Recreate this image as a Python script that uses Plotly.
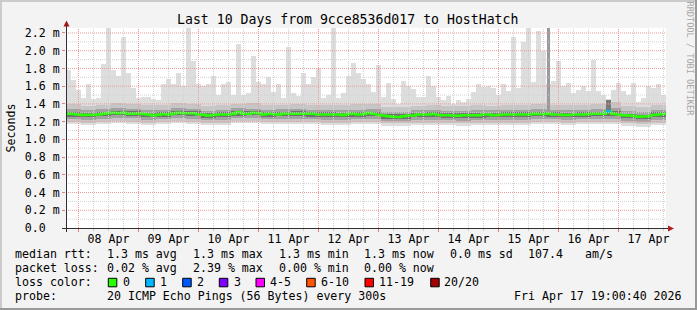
import pandas as pd
import plotly.graph_objects as go

# ---------------------------------------------------------------- data
TITLE = "Last 10 Days from 9cce8536d017 to HostHatch"
Y_TITLE = "Seconds"
WATERMARK = "RRDTOOL / TOBI OETIKER"
START = "2026-04-07 19:00:40"
END = "2026-04-17 19:00:40"
FIRST_STEP = "2026-04-07 19:00"      # first 2-hour consolidated step
BAND_STEP0 = "2026-04-07 19:00"      # first 6-hour smoke-band step

# highest ping per 2-hour step (ms)
ping_max = [
    1.78, 1.67, 1.56, 1.47, 1.63, 1.46, 1.47, 1.85, 2.26, 1.78,
    1.72, 2.15, 1.75, 1.58, 1.47, 1.48, 1.48, 1.45, 1.44, 1.62,
    1.68, 1.62, 1.75, 1.60, 2.27, 1.88, 1.62, 1.60, 1.62, 1.72,
    1.50, 1.62, 1.65, 1.50, 2.08, 1.50, 1.52, 1.94, 1.65, 1.62,
    1.70, 1.53, 1.63, 1.47, 2.04, 1.52, 1.49, 1.75, 1.63, 1.70,
    1.81, 1.47, 1.50, 2.26, 1.47, 1.52, 1.71, 1.86, 1.75, 1.68,
    1.62, 1.53, 1.84, 1.48, 1.64, 1.45, 1.40, 1.66, 1.60, 1.57,
    1.48, 1.48, 1.71, 1.60, 1.48, 1.44, 1.49, 1.40, 1.44, 1.42,
    1.46, 1.53, 1.62, 1.59, 1.60, 1.58, 1.50, 1.62, 1.55, 2.15,
    1.58, 2.10, 2.26, 1.65, 2.22, 2.00, 1.62, 1.66, 1.88, 1.60,
    1.64, 1.52, 1.56, 1.60, 1.55, 1.90, 1.54, 1.50, 1.45, 1.56,
    1.64, 1.55, 1.50, 1.64, 1.42, 1.47, 1.60, 1.58, 1.62, 1.50,
]

# median rtt per 2-hour step (ms)
median_rtt = [
    1.288, 1.285, 1.280, 1.275, 1.278, 1.275, 1.280, 1.288, 1.295, 1.300,
    1.295, 1.300, 1.288, 1.290, 1.292, 1.285, 1.280, 1.270, 1.278, 1.285,
    1.280, 1.293, 1.300, 1.295, 1.295, 1.295, 1.280, 1.278, 1.270, 1.275,
    1.280, 1.280, 1.280, 1.290, 1.305, 1.290, 1.290, 1.300, 1.295, 1.280,
    1.288, 1.285, 1.280, 1.288, 1.288, 1.288, 1.288, 1.288, 1.288, 1.288,
    1.280, 1.280, 1.280, 1.280, 1.280, 1.275, 1.285, 1.288, 1.280, 1.285,
    1.298, 1.290, 1.275, 1.268, 1.262, 1.255, 1.252, 1.262, 1.270, 1.270,
    1.280, 1.280, 1.280, 1.286, 1.275, 1.272, 1.272, 1.268, 1.265, 1.272,
    1.272, 1.272, 1.272, 1.280, 1.280, 1.272, 1.275, 1.280, 1.280, 1.280,
    1.280, 1.280, 1.280, 1.290, 1.285, 1.285, 1.290, 1.280, 1.280, 1.275,
    1.275, 1.280, 1.280, 1.280, 1.285, 1.288, 1.288, 1.288, 1.315, 1.288,
    1.280, 1.273, 1.270, 1.265, 1.255, 1.258, 1.262, 1.275, 1.280, 1.285,
]

# lost pings (of 20) per 2-hour step
lost_pings = [
    0, 0, 0, 0, 0, 0, 0, 0, 0, 0, 0, 0, 0, 0, 0, 0, 0, 0, 0, 0,
    0, 0, 0, 0, 0, 0, 0, 0, 0, 0, 0, 0, 0, 0, 0, 0, 0, 0, 0, 0,
    0, 0, 0, 0, 0, 0, 0, 0, 0, 0, 0, 0, 0, 0, 0, 0, 0, 0, 0, 0,
    0, 0, 0, 0, 0, 0, 0, 0, 0, 0, 0, 0, 0, 0, 0, 0, 0, 0, 0, 0,
    0, 0, 0, 0, 0, 0, 0, 0, 0, 0, 0, 0, 0, 0, 0, 0, 0, 0, 0, 0,
    0, 0, 0, 0, 0, 0, 0, 0, 1, 0, 0, 0, 0, 0, 0, 0, 0, 0, 0, 0,
]

# smoke bands per 6-hour step (ms)
ping_min = [
    1.18, 1.17, 1.18, 1.18, 1.18, 1.17, 1.17, 1.18, 1.18, 1.17,
    1.17, 1.18, 1.18, 1.17, 1.18, 1.18, 1.17, 1.17, 1.17, 1.18,
    1.18, 1.16, 1.16, 1.17, 1.17, 1.17, 1.16, 1.17, 1.17, 1.17,
    1.17, 1.18, 1.17, 1.17, 1.17, 1.18, 1.18, 1.16, 1.15, 1.17,
]
outer_lo = [
    1.20, 1.19, 1.20, 1.21, 1.20, 1.19, 1.20, 1.21, 1.20, 1.19,
    1.19, 1.21, 1.21, 1.20, 1.20, 1.20, 1.20, 1.19, 1.19, 1.20,
    1.20, 1.18, 1.18, 1.19, 1.19, 1.19, 1.18, 1.19, 1.19, 1.19,
    1.19, 1.20, 1.20, 1.19, 1.20, 1.20, 1.20, 1.18, 1.17, 1.19,
]
outer_hi = [
    1.40, 1.38, 1.39, 1.41, 1.40, 1.39, 1.39, 1.41, 1.40, 1.38,
    1.39, 1.40, 1.41, 1.39, 1.39, 1.40, 1.39, 1.39, 1.39, 1.40,
    1.40, 1.37, 1.37, 1.38, 1.39, 1.38, 1.38, 1.39, 1.38, 1.39,
    1.39, 1.40, 1.39, 1.39, 1.39, 1.40, 1.42, 1.38, 1.36, 1.39,
]
mid_lo = [
    1.23, 1.22, 1.23, 1.24, 1.24, 1.22, 1.23, 1.24, 1.23, 1.22,
    1.22, 1.24, 1.24, 1.23, 1.23, 1.23, 1.23, 1.22, 1.22, 1.23,
    1.23, 1.21, 1.21, 1.22, 1.22, 1.22, 1.21, 1.22, 1.22, 1.22,
    1.22, 1.23, 1.23, 1.22, 1.23, 1.23, 1.23, 1.21, 1.20, 1.22,
]
mid_hi = [
    1.34, 1.33, 1.34, 1.35, 1.34, 1.33, 1.33, 1.35, 1.34, 1.32,
    1.33, 1.35, 1.34, 1.33, 1.34, 1.34, 1.33, 1.33, 1.33, 1.33,
    1.34, 1.31, 1.31, 1.33, 1.33, 1.32, 1.32, 1.33, 1.33, 1.33,
    1.33, 1.34, 1.33, 1.33, 1.33, 1.34, 1.35, 1.32, 1.31, 1.33,
]
core_lo = [
    1.25, 1.25, 1.26, 1.27, 1.26, 1.25, 1.25, 1.27, 1.26, 1.24,
    1.25, 1.26, 1.27, 1.25, 1.26, 1.26, 1.25, 1.25, 1.25, 1.25,
    1.26, 1.23, 1.23, 1.25, 1.25, 1.24, 1.24, 1.24, 1.25, 1.25,
    1.25, 1.26, 1.25, 1.25, 1.25, 1.26, 1.26, 1.24, 1.23, 1.25,
]
core_hi = [
    1.31, 1.30, 1.31, 1.32, 1.32, 1.30, 1.31, 1.32, 1.32, 1.30,
    1.31, 1.32, 1.32, 1.31, 1.31, 1.32, 1.31, 1.31, 1.30, 1.31,
    1.31, 1.29, 1.29, 1.30, 1.31, 1.30, 1.30, 1.30, 1.30, 1.31,
    1.31, 1.31, 1.31, 1.30, 1.31, 1.31, 1.32, 1.29, 1.28, 1.31,
]

# short dense bursts (darker smoke)
burst_time = ["2026-04-15 19:55", "2026-04-16 20:00"]
burst_lo = [1.30, 1.29]
burst_hi = [2.27, 1.44]

y_tick_values = [0.0, 0.2, 0.4, 0.6, 0.8, 1.0, 1.2, 1.4, 1.6, 1.8, 2.0, 2.2]
y_tick_labels = ["0.0\u00a0\u00a0", "0.2 m", "0.4 m", "0.6 m", "0.8 m", "1.0 m",
                 "1.2 m", "1.4 m", "1.6 m", "1.8 m", "2.0 m", "2.2 m"]

loss_labels = ["0", "1", "2", "3", "4-5", "6-10", "11-19", "20/20"]
loss_colors = ["#26ff00", "#00b8ff", "#0059ff", "#7e00ff",
               "#ff00ff", "#ff5500", "#ff0000", "#a10000"]
loss_upper = [0, 1, 2, 3, 5, 10, 19, 20]

rtt_legend = ["median rtt:", "1.3 ms avg", "1.3 ms max", "1.3 ms min",
              "1.3 ms now", "0.0 ms sd", "107.4", "am/s"]
loss_legend = ["packet loss:", "0.02 % avg", "2.39 % max", "0.00 % min", "0.00 % now"]
color_legend_title = "loss color:"
probe_legend = ["probe:", "20 ICMP Echo Pings (56 Bytes) every 300s"]
timestamp = "Fri Apr 17 19:00:40 2026"

# ---------------------------------------------------------------- geometry
W, H = 697, 310
PL, PR, PT, PB = 66, 666, 28, 228
MONO = "DejaVu Sans Mono"
FS = 11.6


def px(xp):
    return (xp - PL) / (PR - PL)


def py(yp):
    return (PB - yp) / (PB - PT)


HOUR = 3600 * 1000
step2 = pd.date_range(FIRST_STEP, periods=len(median_rtt), freq="2h")
centers2 = step2 + pd.Timedelta(hours=1)
step6 = pd.date_range(BAND_STEP0, periods=len(core_lo), freq="6h")
centers6 = step6 + pd.Timedelta(hours=3)

fig = go.Figure()


def band(x, lo, hi, width, color):
    fig.add_trace(go.Bar(
        x=list(x), base=list(lo), y=[h - l for h, l in zip(hi, lo)],
        width=width, marker=dict(color=color, line=dict(width=0)),
        hoverinfo="skip"))


band(centers2, median_rtt, ping_max, 2 * HOUR, "#DDDDDD")
band(centers6, ping_min, outer_lo, 6 * HOUR, "#DDDDDD")
band(centers6, outer_lo, outer_hi, 6 * HOUR, "#C6C6C6")
band(centers6, mid_lo, mid_hi, 6 * HOUR, "#A2A2A2")
band(centers6, core_lo, core_hi, 6 * HOUR, "#707070")
fig.add_trace(go.Bar(
    x=pd.to_datetime(burst_time), base=burst_lo,
    y=[h - l for h, l in zip(burst_hi, burst_lo)],
    width=[1 * HOUR, 2 * HOUR], marker=dict(color=["#9A9A9A", "#7A7A7A"], line=dict(width=0)),
    hoverinfo="skip"))

# median line, coloured by loss
mx = list(step2) + [step2[-1] + pd.Timedelta(hours=2)]
my = list(median_rtt) + [median_rtt[-1]]
fig.add_trace(go.Scatter(x=mx, y=my, mode="lines", line=dict(color=loss_colors[0], width=2.5, shape="hv"),
                         hoverinfo="skip"))


def loss_index(n):
    for i, up in enumerate(loss_upper):
        if n <= up:
            return i
    return len(loss_upper) - 1


for i, n in enumerate(lost_pings):
    if n > 0:
        fig.add_trace(go.Scatter(
            x=[step2[i], step2[i] + pd.Timedelta(hours=2)], y=[median_rtt[i], median_rtt[i]],
            mode="lines", line=dict(color=loss_colors[loss_index(n)], width=2.5), hoverinfo="skip"))

shapes = []
DOT = "1px,1px"
# grid on top (rrdtool style)
t0, t1 = pd.Timestamp(START), pd.Timestamp(END)
for t in pd.date_range("2026-04-07 00:00", "2026-04-18 00:00", freq="6h"):
    if t0 < t < t1:
        major = t.hour == 0
        shapes.append(dict(type="line", xref="x", yref="paper", x0=t, x1=t, y0=0, y1=1, layer="above",
                           line=dict(color="#EE9A9A" if major else "#D2D2D2", width=1, dash=DOT)))
for k in range(1, 23):
    v = k / 10
    major = k % 2 == 0
    shapes.append(dict(type="line", xref="paper", yref="y", x0=0, x1=1, y0=v, y1=v, layer="above",
                       line=dict(color="#EE9A9A" if major else "#D2D2D2", width=1, dash=DOT)))

# axes
AX = "#303030"
shapes.append(dict(type="line", xref="paper", yref="paper", x0=px(62), x1=px(668), y0=py(228.5), y1=py(228.5),
                   line=dict(color=AX, width=1), layer="above"))
shapes.append(dict(type="line", xref="paper", yref="paper", x0=px(66.5), x1=px(66.5), y0=py(232), y1=py(26),
                   line=dict(color=AX, width=1), layer="above"))
shapes.append(dict(type="path", xref="paper", yref="paper",
                   path=f"M {px(63.5)} {py(26.5)} L {px(66.5)} {py(20.5)} L {px(69.5)} {py(26.5)} Z",
                   fillcolor="#A01818", line=dict(width=0), layer="above"))
shapes.append(dict(type="path", xref="paper", yref="paper",
                   path=f"M {px(668)} {py(225.5)} L {px(674)} {py(228.5)} L {px(668)} {py(231.5)} Z",
                   fillcolor="#B02020", line=dict(width=0), layer="above"))

# frame
shapes += [
    dict(type="rect", xref="paper", yref="paper", x0=px(0), x1=px(W), y0=py(0), y1=py(2),
         fillcolor="#CBCBCB", line=dict(width=0), layer="above"),
    dict(type="rect", xref="paper", yref="paper", x0=px(0), x1=px(2), y0=py(0), y1=py(H),
         fillcolor="#CBCBCB", line=dict(width=0), layer="above"),
    dict(type="rect", xref="paper", yref="paper", x0=px(W - 2), x1=px(W), y0=py(0), y1=py(H),
         fillcolor="#999999", line=dict(width=0), layer="above"),
    dict(type="rect", xref="paper", yref="paper", x0=px(0), x1=px(W), y0=py(H - 2), y1=py(H),
         fillcolor="#999999", line=dict(width=0), layer="above"),
]

annotations = []


def text(s, x, y, xanchor="left", size=FS, color="#000000", angle=0):
    annotations.append(dict(text=s.replace(" ", "\u00a0"), x=px(x), y=py(y), xref="paper", yref="paper",
                            xanchor=xanchor, yanchor="middle", showarrow=False, textangle=angle,
                            borderpad=0, borderwidth=0,
                            font=dict(family=MONO, size=size, color=color)))


text(TITLE, 347.5, 19.3, xanchor="center", size=13.2)
text(Y_TITLE, 10.5, 128, xanchor="center", angle=-90)
text(WATERMARK, 689.5, 59, xanchor="center", size=8.6, color="#A8A8A8", angle=90)

rtt_x = [16, 107.3, 194, 279.3, 365, 451, 528.3, 586]
for s, x in zip(rtt_legend, rtt_x):
    text(s, x - 0.7, 254.3)
loss_x = [16, 107.3, 194, 279.3, 365]
for s, x in zip(loss_legend, loss_x):
    text(s, x - 0.7, 268.3)
text(color_legend_title, 15.3, 282.3)
box_x = [108.3, 145.7, 182.7, 219.3, 256, 306.7, 365, 430.7]
lab_x = [123.3, 160.7, 197.7, 234.3, 270.7, 321.7, 380, 445]
for lab, col, bx, lx in zip(loss_labels, loss_colors, box_x, lab_x):
    shapes.append(dict(type="rect", xref="paper", yref="paper", x0=px(bx), x1=px(bx + 8.5),
                       y0=py(278.3), y1=py(286.8), fillcolor=col, line=dict(color="#000000", width=1),
                       layer="above"))
    text(lab, lx - 0.7, 282.3)
text(probe_legend[0], 15.3, 296)
text(probe_legend[1], 106.6, 296)
text(timestamp, 681.5, 296, xanchor="right")

fig.update_layout(
    width=W, height=H, margin=dict(l=PL, r=W - PR, t=PT, b=H - PB, pad=0),
    paper_bgcolor="#F3F3F3", plot_bgcolor="#FFFFFF",
    barmode="overlay", bargap=0, showlegend=False, hovermode=False,
    font=dict(family=MONO, size=FS, color="#000000"),
    shapes=shapes, annotations=annotations,
)
fig.update_xaxes(
    type="date", range=[START, END], showgrid=False, zeroline=False, showline=False,
    tickformat="%d %b", ticklabelmode="period", dtick=24 * HOUR, tick0="2026-04-08",
    ticks="outside", ticklen=3, tickcolor="#E08080", tickfont=dict(family=MONO, size=FS),
    ticklabelstandoff=-3,
    minor=dict(dtick=6 * HOUR, ticks="outside", ticklen=2, tickcolor="#C8C8C8", showgrid=False),
    fixedrange=True,
)
fig.update_yaxes(
    range=[0, (PB - PT) / 88.64], tickmode="array", tickvals=y_tick_values, ticktext=y_tick_labels,
    showgrid=False, zeroline=False, showline=False, ticks="outside", ticklen=3, tickcolor="#E08080",
    tickfont=dict(family=MONO, size=FS), fixedrange=True,
)

fig.write_html("out.html", config={"displayModeBar": False})
